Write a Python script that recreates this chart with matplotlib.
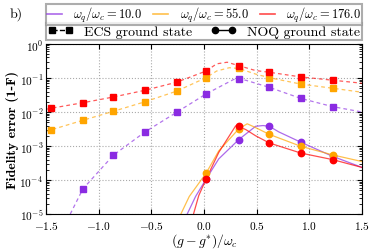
import numpy as np
import matplotlib
matplotlib.use('Agg')
import matplotlib.pyplot as plt
from matplotlib.lines import Line2D

plt.rcParams['font.family'] = 'cmr10'
plt.rcParams['mathtext.fontset'] = 'cm'
plt.rcParams['axes.formatter.use_mathtext'] = True
plt.rcParams['axes.unicode_minus'] = False

# colours and labels of the three frequency ratios
labels = [r'$\omega_q/\omega_c = 10.0$', r'$\omega_q/\omega_c = 55.0$', r'$\omega_q/\omega_c = 176.0$']
colors = ['#8a2be2', '#ffa500', '#ff0000']

# ECS ground state: markers
ecs_x = [-1.45, -1.15, -0.86, -0.56, -0.26, 0.02, 0.33, 0.62, 0.92, 1.22]
ecs_purple = [None, 5.5e-5, 5.4e-4, 2.6e-3, 9.8e-3, 0.034, 0.093, 0.053, 0.025, 0.0144]
ecs_orange = [0.0030, 0.0057, 0.0105, 0.020, 0.041, 0.102, 0.19, 0.102, 0.066, 0.050]
ecs_red = [0.0129, 0.0187, 0.0276, 0.0435, 0.075, 0.16, 0.23, 0.147, 0.107, 0.086]

# ECS ground state: dashed curves
ecs_curve_purple_x = [-1.27, -1.15, -0.86, -0.56, -0.26, 0.02, 0.28, 0.33, 0.40, 0.62, 0.92, 1.22, 1.5]
ecs_curve_purple_y = [1e-5, 5.5e-5, 5.4e-4, 2.6e-3, 9.8e-3, 0.034, 0.090, 0.093, 0.085, 0.053, 0.025, 0.0144, 0.010]
ecs_curve_orange_x = [-1.5, -1.45, -1.15, -0.86, -0.56, -0.26, 0.02, 0.12, 0.24, 0.33, 0.49, 0.62, 0.92, 1.22, 1.5]
ecs_curve_orange_y = [0.0027, 0.0030, 0.0057, 0.0105, 0.020, 0.041, 0.102, 0.16, 0.20, 0.19, 0.13, 0.102, 0.066, 0.050, 0.038]
ecs_curve_red_x = [-1.5, -1.45, -1.15, -0.86, -0.56, -0.26, 0.02, 0.12, 0.22, 0.33, 0.49, 0.62, 0.92, 1.22, 1.5]
ecs_curve_red_y = [0.0120, 0.0129, 0.0187, 0.0276, 0.0435, 0.075, 0.16, 0.26, 0.29, 0.23, 0.165, 0.147, 0.107, 0.086, 0.070]

# NOQ ground state: markers
noq_x = [0.02, 0.33, 0.62, 0.92, 1.22]
noq_purple = [1.07e-4, 1.55e-3, 3.8e-3, 1.29e-3, 5.0e-4]
noq_orange = [1.6e-4, 3.2e-3, 2.2e-3, 9.8e-4, 5.5e-4]
noq_red = [1.07e-4, 3.8e-3, 1.23e-3, 6.2e-4, 4.0e-4]

# NOQ ground state: solid curves
noq_curve_purple_x = [-0.16, -0.08, 0.02, 0.14, 0.33, 0.49, 0.56, 0.62, 0.71, 0.92, 1.22, 1.5]
noq_curve_purple_y = [1e-5, 3.3e-5, 1.07e-4, 4.2e-4, 1.55e-3, 3.8e-3, 4.0e-3, 3.8e-3, 2.6e-3, 1.29e-3, 5.0e-4, 2.35e-4]
noq_curve_orange_x = [-0.22, -0.14, 0.02, 0.14, 0.33, 0.41, 0.48, 0.62, 0.92, 1.22, 1.5]
noq_curve_orange_y = [1e-5, 3.3e-5, 1.6e-4, 7.2e-4, 3.2e-3, 4.5e-3, 3.6e-3, 2.2e-3, 9.8e-4, 5.5e-4, 3.5e-4]
noq_curve_red_x = [-0.10, -0.05, 0.02, 0.14, 0.30, 0.33, 0.40, 0.49, 0.62, 0.92, 1.22, 1.5]
noq_curve_red_y = [1e-5, 3.5e-5, 1.07e-4, 6.5e-4, 3.9e-3, 3.8e-3, 3.0e-3, 2.0e-3, 1.23e-3, 6.2e-4, 4.0e-4, 2.35e-4]

ecs_marks = [ecs_purple, ecs_orange, ecs_red]
ecs_curves = [(ecs_curve_purple_x, ecs_curve_purple_y),
              (ecs_curve_orange_x, ecs_curve_orange_y),
              (ecs_curve_red_x, ecs_curve_red_y)]
noq_marks = [noq_purple, noq_orange, noq_red]
noq_curves = [(noq_curve_purple_x, noq_curve_purple_y),
              (noq_curve_orange_x, noq_curve_orange_y),
              (noq_curve_red_x, noq_curve_red_y)]

fig = plt.figure(figsize=(3.74, 2.51), dpi=100)
ax = fig.add_axes([0.123, 0.143, 0.845, 0.678])

for i in range(3):
    c = colors[i]
    cx, cy = ecs_curves[i]
    ax.plot(cx, cy, '--', color=c, alpha=0.65, lw=0.9, dashes=(3, 2.5), zorder=2)
    mx = [x for x, y in zip(ecs_x, ecs_marks[i]) if y is not None]
    my = [y for y in ecs_marks[i] if y is not None]
    ax.plot(mx, my, 's', color=c, ms=4.6, zorder=4)
    cx, cy = noq_curves[i]
    ax.plot(cx, cy, '-', color=c, alpha=0.7, lw=0.9, zorder=2)
    ax.plot(noq_x, noq_marks[i], 'o', color=c, ms=4.6, zorder=4)

ax.set_yscale('log')
ax.set_xlim(-1.5, 1.5)
ax.set_ylim(1e-5, 1)
ax.set_xticks([-1.5, -1.0, -0.5, 0.0, 0.5, 1.0, 1.5])
ax.grid(True, which='major', ls=':', color='#aaaaaa', lw=0.8)
ax.tick_params(which='both', direction='in', top=True, right=True, labelsize=8.2)
ax.tick_params(axis='x', pad=3.5)
ax.tick_params(axis='y', pad=2)
ax.set_xlabel(r'$(g-g^{*})/\omega_c$', fontsize=9.8, labelpad=0)
ax.set_ylabel('Fidelity error (1-F)', fontsize=10, family='cmb10', labelpad=0.5)

# legends above the axes
h2 = [Line2D([], [], color='k', ls='--', marker='s', ms=4.5, lw=1.0),
      Line2D([], [], color='k', ls='-', marker='o', ms=4.5, lw=1.0)]
leg2 = ax.legend(h2, ['ECS ground state', 'NOQ ground state'], loc='lower left',
                 bbox_to_anchor=(0, 1.022, 1, 0.1), mode='expand', ncol=2, fontsize=10,
                 frameon=True, fancybox=False, edgecolor='#999999', borderaxespad=0,
                 handlelength=1.8, numpoints=2, borderpad=0.15, handletextpad=0.8)
leg2.get_frame().set_linewidth(1.5)
ax.add_artist(leg2)

fig.canvas.draw()
top2 = ax.transAxes.inverted().transform(leg2.get_window_extent().corners()[1])[1]

h1 = [Line2D([], [], color=c, alpha=0.7, lw=1.2) for c in colors]
leg1 = ax.legend(h1, labels, loc='lower left', bbox_to_anchor=(0, top2 - 0.008, 1, 0.1), mode='expand',
                 ncol=3, fontsize=9, frameon=True, fancybox=False, edgecolor='#999999',
                 borderaxespad=0, handlelength=1.2, borderpad=0.05, handletextpad=0.9)
leg1.get_frame().set_linewidth(1.5)

fig.text(0.025, 0.93, 'b)', fontsize=10)

fig.savefig('out.png', dpi=100)
